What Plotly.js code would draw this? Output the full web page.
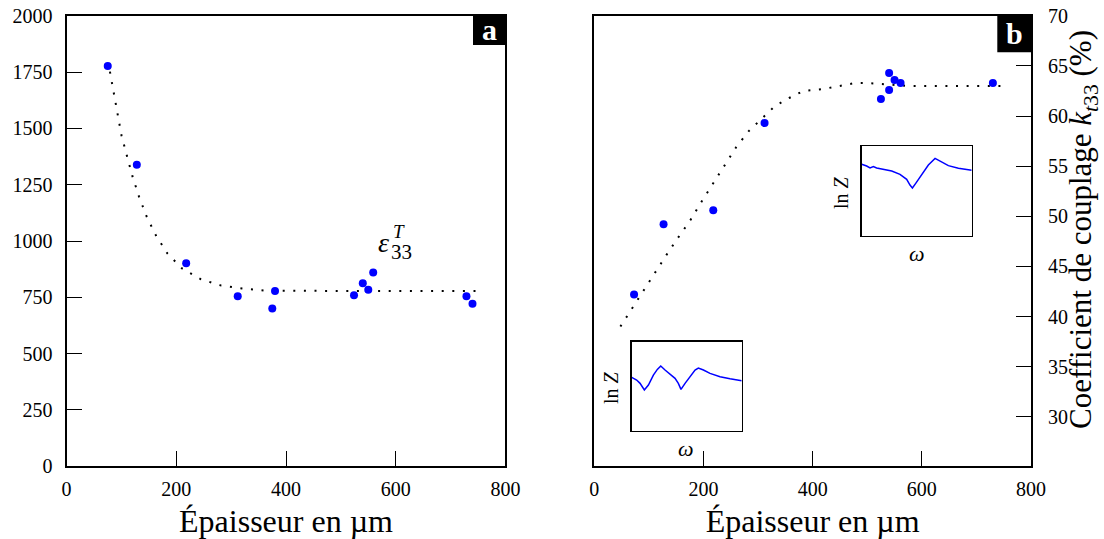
<!DOCTYPE html>
<html>
<head>
<meta charset="utf-8">
<script src="https://cdn.plot.ly/plotly-3.0.1.min.js"></script>
<style>
html,body{margin:0;padding:0;background:#fff;}
#chart{width:1104px;height:539px;}
#chart text{font-family:"Liberation Serif",serif !important;}
</style>
</head>
<body>
<div id="chart"></div>
<script>
// Panel a: permittivity vs thickness
const epsThickness = [75, 128, 218, 312, 375, 380, 524, 540, 550, 559, 729, 740];
const epsValues    = [1777, 1339, 901, 755, 700, 778, 759, 812, 784, 860, 755, 721];
const epsFitX = [79, 86, 93, 100, 110, 120, 132, 146, 163, 184, 211, 245, 282, 320, 359, 418, 500, 600, 700, 748];
const epsFitY = [1752, 1655, 1561, 1470, 1378, 1288, 1197, 1108, 1024, 944, 877, 830, 802, 789, 780, 778, 778, 778, 778, 778];

// Panel b: coupling coefficient vs thickness
const ktThickness = [73, 127, 218, 312, 525, 540, 540, 550, 561, 730];
const ktValues    = [42.2, 49.2, 50.6, 59.3, 61.7, 62.6, 64.3, 63.6, 63.3, 63.3];
const ktFitX = [48, 69, 90, 112, 133, 154, 176, 197, 218, 238, 260, 283, 307, 331, 357, 383, 420, 438, 458, 478, 497, 530, 575, 650, 749];
const ktFitY = [39.0, 40.8, 42.6, 44.4, 46.2, 47.9, 49.6, 51.5, 53.3, 55.1, 56.9, 58.5, 59.8, 61.0, 61.8, 62.5, 62.7, 62.9, 63.1, 63.3, 63.3, 63.2, 63.0, 63.0, 63.0];

// Insets: ln Z versus omega (normalised)
const inset1U = [0, 0.045, 0.076, 0.115, 0.152, 0.197, 0.233, 0.264, 0.303, 0.348, 0.394, 0.424, 0.448, 0.485, 0.530, 0.576, 0.606, 0.652, 0.712, 0.803, 0.894, 1.0];
const inset1V = [0.599, 0.569, 0.532, 0.457, 0.513, 0.625, 0.689, 0.727, 0.682, 0.633, 0.588, 0.532, 0.464, 0.532, 0.607, 0.682, 0.704, 0.682, 0.644, 0.607, 0.584, 0.562];
const inset2U = [0, 0.045, 0.076, 0.106, 0.136, 0.197, 0.273, 0.348, 0.409, 0.439, 0.461, 0.491, 0.545, 0.606, 0.667, 0.712, 0.788, 0.879, 1.0];
const inset2V = [0.796, 0.777, 0.755, 0.770, 0.755, 0.743, 0.721, 0.684, 0.628, 0.565, 0.532, 0.584, 0.684, 0.788, 0.862, 0.833, 0.781, 0.751, 0.729];

const xTicks = [0, 200, 400, 600, 800];
const epsTicks = [0, 250, 500, 750, 1000, 1250, 1500, 1750, 2000];
const ktTicks = [30, 35, 40, 45, 50, 55, 60, 65, 70];

const W = 1104, H = 539;
const px = v => v / W;
const py = v => 1 - v / H;
const FONT = "Liberation Serif";
const yDom = [py(466.2), py(15.8)];

const dotLine = {color: 'black', width: 2, dash: '2px,8.6px'};
const blue = '#0000ff';

const traces = [
  {x: epsFitX, y: epsFitY, mode: 'lines', line: dotLine, xaxis: 'x', yaxis: 'y', hoverinfo: 'skip'},
  {x: epsThickness, y: epsValues, mode: 'markers', marker: {color: blue, size: 8}, xaxis: 'x', yaxis: 'y'},
  {x: ktFitX, y: ktFitY, mode: 'lines', line: dotLine, xaxis: 'x2', yaxis: 'y2', hoverinfo: 'skip'},
  {x: ktThickness, y: ktValues, mode: 'markers', marker: {color: blue, size: 8}, xaxis: 'x2', yaxis: 'y2'},
  {x: inset1U, y: inset1V, mode: 'lines', line: {color: blue, width: 1.5}, xaxis: 'x3', yaxis: 'y3'},
  {x: inset2U, y: inset2V, mode: 'lines', line: {color: blue, width: 1.5}, xaxis: 'x4', yaxis: 'y4'}
];

const tickFont = {family: FONT, size: 20, color: 'black'};
const titleFont = {family: FONT, size: 32, color: 'black'};
const baseX = {
  range: [0, 800], tickvals: xTicks, ticktext: xTicks.map(String),
  ticks: 'inside', ticklen: 15, tickwidth: 1, tickcolor: 'black',
  showline: true, mirror: true, linewidth: 2, linecolor: 'black',
  showgrid: false, zeroline: false, tickfont: tickFont, ticklabelstandoff: 4,
  title: {text: 'Épaisseur en µm', font: titleFont, standoff: 10}
};
const insetAxis = d => ({domain: d, range: [0, 1], showline: true, mirror: true, linewidth: 1.3, linecolor: 'black',
  showgrid: false, zeroline: false, showticklabels: false, ticks: ''});

const ann = (text, x, y, size, extra) => Object.assign({
  text: text, xref: 'paper', yref: 'paper', x: px(x), y: py(y), xanchor: 'center', yanchor: 'middle',
  showarrow: false, font: {family: FONT, size: size, color: 'black'}
}, extra || {});

const layout = {
  width: W, height: H,
  margin: {l: 0, r: 0, t: 0, b: 0},
  paper_bgcolor: 'white', plot_bgcolor: 'rgba(0,0,0,0)',
  showlegend: false,
  font: {family: FONT, color: 'black'},
  xaxis: Object.assign({}, baseX, {domain: [px(66.6), px(505.4)], anchor: 'y'}),
  yaxis: {
    domain: yDom, range: [0, 2000], tickvals: epsTicks, ticktext: epsTicks.map(String),
    ticks: 'inside', ticklen: 15, tickwidth: 1, tickcolor: 'black',
    showline: true, mirror: true, linewidth: 2, linecolor: 'black',
    showgrid: false, zeroline: false, tickfont: tickFont, anchor: 'x', ticklabelstandoff: 8
  },
  xaxis2: Object.assign({}, baseX, {domain: [px(594.2), px(1031.1)], anchor: 'y2'}),
  yaxis2: {
    domain: yDom, range: [25.07, 70], tickvals: ktTicks, ticktext: ktTicks.map(String),
    side: 'right', anchor: 'x2',
    ticks: 'inside', ticklen: 15, tickwidth: 1, tickcolor: 'black',
    showline: true, mirror: true, linewidth: 2, linecolor: 'black',
    showgrid: false, zeroline: false, tickfont: tickFont, ticklabelstandoff: 11
  },
  xaxis3: Object.assign(insetAxis([px(631.7), px(741.7)]), {anchor: 'y3'}),
  yaxis3: Object.assign(insetAxis([py(430.7), py(341.7)]), {anchor: 'x3'}),
  xaxis4: Object.assign(insetAxis([px(861.7), px(971.7)]), {anchor: 'y4'}),
  yaxis4: Object.assign(insetAxis([py(235.7), py(146)]), {anchor: 'x4'}),
  shapes: [
    {type: 'rect', xref: 'paper', yref: 'paper', x0: px(473), x1: px(505.4), y0: py(45), y1: py(15.8), fillcolor: 'black', line: {width: 0}, layer: 'below'},
    {type: 'rect', xref: 'paper', yref: 'paper', x0: px(997.3), x1: px(1031.1), y0: py(52.3), y1: py(15.8), fillcolor: 'black', line: {width: 0}, layer: 'below'}
  ],
  annotations: [
    ann('Coefficient de couplage <i>k</i><sub><i>t</i>33</sub> (%)', 1083, 230, 31, {textangle: -90}),
    ann('<b>a</b>', 489, 29, 30, {font: {family: FONT, size: 30, color: 'white'}}),
    ann('<b>b</b>', 1014.5, 34, 30, {font: {family: FONT, size: 30, color: 'white'}}),
    ann('<i>ε</i>', 383, 242, 28),
    ann('<i>T</i>', 399, 232, 19),
    ann('33', 401, 252, 21),
    ann('ln <i>Z</i>', 611, 388, 20, {textangle: -90}),
    ann('<i>ω</i>', 686, 448, 22),
    ann('ln <i>Z</i>', 841, 193, 20, {textangle: -90}),
    ann('<i>ω</i>', 917, 253, 22)
  ]
};

Plotly.newPlot('chart', traces, layout, {staticPlot: true, displayModeBar: false});
</script>
</body>
</html>
